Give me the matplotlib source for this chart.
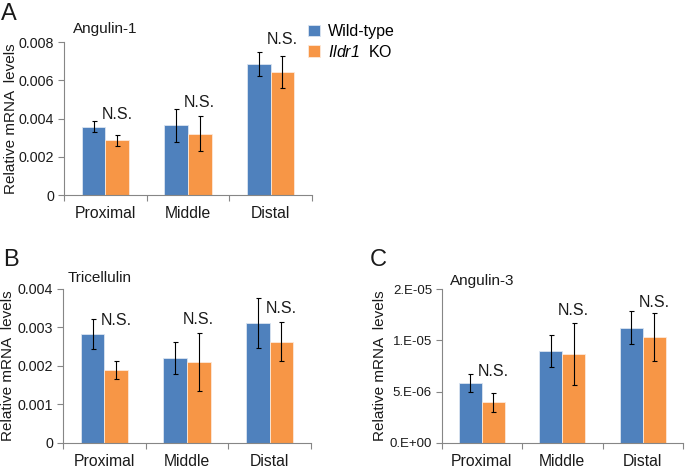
import matplotlib

matplotlib.use("Agg")
import matplotlib.pyplot as plt
import numpy as np
from matplotlib.ticker import FuncFormatter

plt.rcParams["font.family"] = ["Liberation Sans", "DejaVu Sans"]
plt.rcParams["mathtext.fontset"] = "custom"
plt.rcParams["mathtext.it"] = "Liberation Sans:italic"
plt.rcParams["mathtext.rm"] = "Liberation Sans:italic"

# данні
regions = ["Proximal", "Middle", "Distal"]

a_wt = [0.00358, 0.00364, 0.00687]
a_wt_err = [0.00030, 0.00086, 0.00063]
a_ko = [0.00286, 0.00320, 0.00643]
a_ko_err = [0.00030, 0.00092, 0.00086]
a_ns = [0.00382, 0.00444, 0.00774]

b_wt = [0.00283, 0.00220, 0.00311]
b_wt_err = [0.00038, 0.00042, 0.00065]
b_ko = [0.00190, 0.00210, 0.00263]
b_ko_err = [0.00023, 0.00076, 0.00050]
b_ns = [0.00298, 0.00300, 0.00330]

c_wt = [5.87e-6, 8.97e-6, 11.25e-6]
c_wt_err = [0.87e-6, 1.6e-6, 1.63e-6]
c_ko = [3.95e-6, 8.68e-6, 10.31e-6]
c_ko_err = [0.90e-6, 3.05e-6, 2.33e-6]
c_ns = [6.2e-6, 12.2e-6, 13.0e-6]

BLUE = "#4F81BD"
ORANGE = "#F79646"
AXC = "#868686"
TXT = "#1a1a1a"

W, H = 685, 468


def fx(x):
    return x / W


def fy(y):
    return 1 - y / H


def panel(fig, box, wt, wt_err, ko, ko_err, ns, ymax, yticks, fmt, title,
          letter, letter_xy, title_xy, ylab_x, ytick_size):
    left, top, right, bottom = box
    ax = fig.add_axes([fx(left), fy(bottom), fx(right - left),
                       (bottom - top) / H])
    x = np.arange(len(regions))
    w = 0.285
    bwt = ax.bar(x - w / 2, wt, w, color=BLUE, edgecolor="#dbe5f1",
                 linewidth=0.6, label="Wild-type", zorder=2)
    bko = ax.bar(x + w / 2, ko, w, color=ORANGE, edgecolor="#fde9d9",
                 linewidth=0.6, label=r"$\mathit{Ildr1}$  KO", zorder=2)
    ax.errorbar(x - w / 2, wt, yerr=wt_err, fmt="none", ecolor="black",
                elinewidth=0.8, capsize=1.8, capthick=0.8, zorder=3)
    ax.errorbar(x + w / 2, ko, yerr=ko_err, fmt="none", ecolor="black",
                elinewidth=0.8, capsize=1.8, capthick=0.8, zorder=3)
    for xi, yi in zip(x + w / 2, ns):
        ax.text(xi, yi, "N.S.", ha="center", va="bottom", fontsize=11.5,
                color=TXT)

    ax.set_xlim(-0.5, 2.5)
    ax.set_ylim(0, ymax)
    ax.set_yticks(yticks)
    ax.yaxis.set_major_formatter(FuncFormatter(fmt))
    ax.set_xticks([-0.5, 0.5, 1.5, 2.5])
    ax.set_xticklabels([])
    ax.set_xticks(x, minor=True)
    ax.set_xticklabels(regions, minor=True, fontsize=11.3, color=TXT)
    ax.tick_params(axis="x", which="minor", length=0, pad=8)
    ax.tick_params(axis="x", which="major", length=4, color=AXC, width=0.8)
    ax.tick_params(axis="y", length=4, color=AXC, width=0.8,
                   labelsize=ytick_size, labelcolor=TXT, pad=3)
    for s in ["top", "right"]:
        ax.spines[s].set_visible(False)
    for s in ["left", "bottom"]:
        ax.spines[s].set_color(AXC)
        ax.spines[s].set_linewidth(0.8)

    fig.text(fx(letter_xy[0]), fy(letter_xy[1]), letter, fontsize=17,
             va="top", ha="left", color=TXT)
    fig.text(fx(title_xy[0]), fy(title_xy[1]), title, fontsize=11,
             va="baseline", ha="left", color=TXT)
    fig.text(fx(ylab_x), fy((top + bottom) / 2), "Relative mRNA  levels",
             rotation=90, va="center", ha="center", fontsize=11, color=TXT)
    return ax, bwt, bko


def fmt_dec(v, pos):
    return "0" if v == 0 else f"{v:.3f}"


def fmt_exp(v, pos):
    s = f"{v:.0E}"
    return s[0] + "." + s[1:]


fig = plt.figure(figsize=(W / 100, H / 100), dpi=100)

ax_a, h1, h2 = panel(fig, (64, 42, 312, 195), a_wt, a_wt_err, a_ko, a_ko_err,
                     a_ns, 0.008, [0, 0.002, 0.004, 0.006, 0.008], fmt_dec,
                     "Angulin-1", "A", (1, 3), (73, 33), 11, 10.3)
panel(fig, (63, 289, 311, 442.7), b_wt, b_wt_err, b_ko, b_ko_err, b_ns,
      0.004, [0, 0.001, 0.002, 0.003, 0.004], fmt_dec,
      "Tricellulin", "B", (3, 249), (68, 282), 8, 10.3)
panel(fig, (441.7, 289.3, 683, 442.7), c_wt, c_wt_err, c_ko, c_ko_err, c_ns,
      1.5e-5, [0, 5e-6, 1e-5, 1.5e-5], fmt_exp,
      "Angulin-3", "C", (370, 249), (450, 285), 380, 9.5)

fig.legend(handles=[h1, h2], loc="upper left",
           bbox_to_anchor=(fx(308), fy(24)), frameon=False, fontsize=11.5,
           handlelength=0.75, handleheight=0.75, handletextpad=0.5,
           labelspacing=0.3, borderpad=0, borderaxespad=0)

fig.savefig("out.png", dpi=100)
